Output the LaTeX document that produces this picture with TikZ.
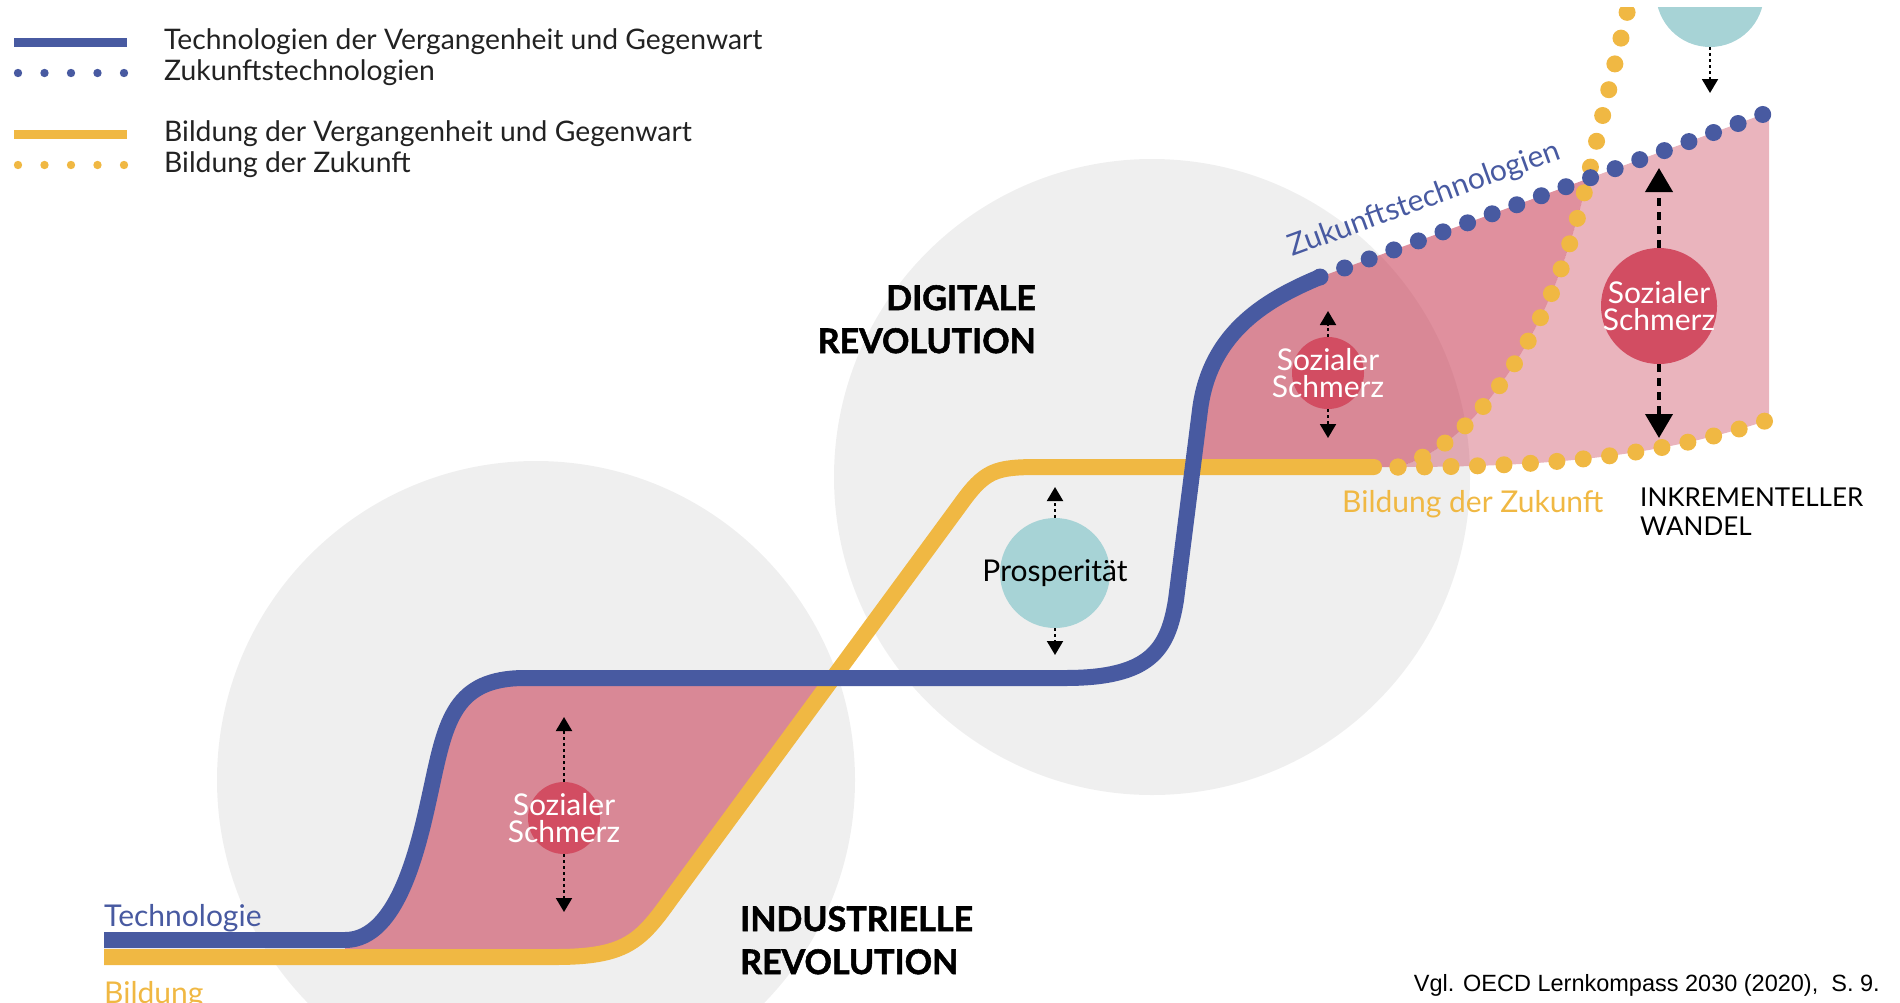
\documentclass[tikz,border=0pt]{standalone}
\usepackage{fontspec}
\setmainfont{Lato}[BoldFeatures={FakeBold=1.6}]
\newfontfamily\capfont{Liberation Sans}
\usetikzlibrary{positioning, arrows.meta}

\definecolor{techblue}{RGB}{72,90,161}
\definecolor{eduyellow}{RGB}{240,184,67}
\definecolor{eragrey}{RGB}{239,239,239}
\definecolor{painred}{RGB}{210,77,98}
\definecolor{painfill}{RGB}{200,57,82}
\definecolor{prosteal}{RGB}{167,211,214}
\definecolor{legendgrey}{RGB}{34,34,34}

\tikzset{
    techline/.style={draw=techblue, line width=16pt},
    eduline/.style={draw=eduyellow, line width=16pt},
    techdots/.style={draw=techblue, line width=17pt, line cap=round, dash pattern=on 0pt off 26.2pt},
    edudots/.style={draw=eduyellow, line width=17pt, line cap=round, dash pattern=on 0pt off 26.5pt},
    bubble/.style={circle, inner sep=0pt},
    painbubble/.style={bubble, fill=painred},
    prosbubble/.style={bubble, fill=prosteal},
    bubbletext/.style={inner sep=0pt, align=center, font=\fontsize{30}{27}\selectfont},
    smallarrow/.style={-{Triangle[width=16pt,length=14pt]}, line width=2pt, dash pattern=on 3pt off 3pt},
    bigarrow/.style={-{Triangle[width=27pt,length=24pt]}, line width=4pt, dash pattern=on 8pt off 6pt},
    legendtext/.style={anchor=west, inner sep=0pt, text=legendgrey, font=\fontsize{28.3}{28.3}\selectfont},
    curvelabel/.style={inner sep=0pt, font=\fontsize{30}{30}\selectfont},
    eralabel/.style={inner sep=0pt, text=black, font=\fontsize{34}{43}\selectfont\bfseries},
}

\begin{document}
\begin{tikzpicture}[x=1pt, y=-1pt]
    \useasboundingbox (0,0) rectangle (1900,1002);

    \begin{scope}
        \clip (0,7) rectangle (1900,1002);

        % eras
        \fill[eragrey] (536,780) circle (319);
        \fill[eragrey] (1152,477) circle (318);

        % gaps between technology and education
        \fill[painfill, opacity=0.56]
            (345,944) .. controls (400,944) and (420,840) .. (432,785)
            .. controls (446,720) and (455,678) .. (525,678) -- (833,678)
            -- (670,900) .. controls (640,942) and (625,957) .. (555,957)
            -- (345,957) -- cycle;
        \fill[painfill, opacity=0.56]
            (1193,467) -- (1200,410) .. controls (1210,330) and (1270,298) .. (1320,277)
            -- (1587,179) -- (1585,190) .. controls (1572,240) and (1555,298) .. (1520,355)
            .. controls (1480,420) and (1440,455) .. (1398,467) -- cycle;
        \fill[painfill, opacity=0.38]
            (1587,179) -- (1764,114) -- (1769,114) -- (1769,420)
            .. controls (1662,455) and (1560,467) .. (1398,467)
            .. controls (1440,455) and (1480,420) .. (1520,355)
            .. controls (1555,298) and (1572,240) .. (1585,190) -- cycle;

        % education
        \draw[eduline]
            (104,957) -- (555,957) .. controls (625,957) and (640,942) .. (670,900)
            -- (960,505) .. controls (985,470) and (995,467) .. (1040,467) -- (1374,467);
        \fill[eduyellow] (1374,467) circle (8);
        \draw[edudots] (1398,467) .. controls (1562,467) and (1664,454) .. (1765,421);
        \draw[edudots]
            (1398,467) .. controls (1440,455) and (1480,420) .. (1520,355)
            .. controls (1555,298) and (1572,240) .. (1585,190) -- (1630,0);

        % technology
        \draw[techline]
            (104,940) -- (345,940) .. controls (400,940) and (420,840) .. (432,785)
            .. controls (446,720) and (455,678) .. (525,678) -- (1065,678)
            .. controls (1150,678) and (1168,650) .. (1176,600) -- (1200,410)
            .. controls (1210,330) and (1270,298) .. (1320,277);
        \draw[techdots] (1320,277) -- (1764,114);

        % bubbles
        \node[painbubble, minimum size=72pt] (pain1) at (564,818) {};
        \node[prosbubble, minimum size=110pt] (pros) at (1055,573) {};
        \node[painbubble, minimum size=72pt] (pain2) at (1328,373) {};
        \node[painbubble, minimum size=116pt] (pain3) at (1659,306) {};
        \node[prosbubble, minimum size=108pt] (pros2) at (1710,-7) {};

        \node[bubbletext, text=white] (pain1text) at (pain1) {Sozialer\\Schmerz};
        \node[bubbletext, text=black] (prostext) at (pros) {Prosperit\"at};
        \node[bubbletext, text=white] (pain2text) at (pain2) {Sozialer\\Schmerz};
        \node[bubbletext, text=white] (pain3text) at (pain3) {Sozialer\\Schmerz};

        % arrow ends
        \coordinate (pain1up) at (564,717);
        \coordinate (pain1down) at (564,912);
        \coordinate (prosup) at (1055,487);
        \coordinate (prosdown) at (1055,655);
        \coordinate (pain2up) at (1328,311);
        \coordinate (pain2down) at (1328,438);
        \coordinate (pain3up) at (1659,168);
        \coordinate (pain3down) at (1659,438);
        \coordinate (pros2down) at (1710,93);

        \foreach \from/\to in {pain1.north/pain1up, pain1.south/pain1down,
                               pros.north/prosup, pros.south/prosdown,
                               pain2.north/pain2up, pain2.south/pain2down,
                               pros2.south/pros2down}
        {
            \draw[smallarrow] (\from) -- (\to);
        }
        \draw[bigarrow] (pain3.north) -- (pain3up);
        \draw[bigarrow] (pain3.south) -- (pain3down);

        % curve labels
        \node[curvelabel, anchor=base west, text=techblue] (techlabel) at (104,926) {Technologie};
        \node[curvelabel, anchor=base west, text=eduyellow] (edulabel) at (104,1003) {Bildung};
        \node[curvelabel, anchor=base west, text=techblue, rotate=20] (futuretech) at (1292,257) {Zukunftstechnologien};
        \node[curvelabel, anchor=base west, text=eduyellow] (futureedu) at (1342,512) {Bildung der Zukunft};
        \node[inner sep=0pt, anchor=north west, align=left, font=\fontsize{26}{29}\selectfont] (incremental) at (1640,488) {INKREMENTELLER\\WANDEL};

        % eras
        \node[eralabel, anchor=north east, align=right] (digital) at (1036,285) {DIGITALE\\REVOLUTION};
        \node[eralabel, anchor=north west, align=left] (industrial) at (740,906) {INDUSTRIELLE\\REVOLUTION};

        % legend
        \foreach \i/\y/\col/\txt in {1/42/techblue/Technologien der Vergangenheit und Gegenwart,
                                     3/134/eduyellow/Bildung der Vergangenheit und Gegenwart}
        {
            \draw[\col, line width=9pt] (14,\y) -- (127,\y);
            \node[legendtext] (legend\i) at (164,\y) {\txt};
        }
        \foreach \i/\y/\col/\txt in {2/73/techblue/Zukunftstechnologien,
                                     4/165/eduyellow/Bildung der Zukunft}
        {
            \foreach \x in {18,44.5,...,125}
            {
                \fill[\col] (\x,\y) circle (4.2);
            }
            \node[legendtext] (legend\i) at (164,\y) {\txt};
        }

        % source
        \node[anchor=east, inner sep=0pt, font=\capfont\fontsize{23.5}{23.5}\selectfont] (source) at (1880,985) {Vgl. OECD Lernkompass 2030 (2020),\ \ S.\ 9.};
    \end{scope}
\end{tikzpicture}
\end{document}
